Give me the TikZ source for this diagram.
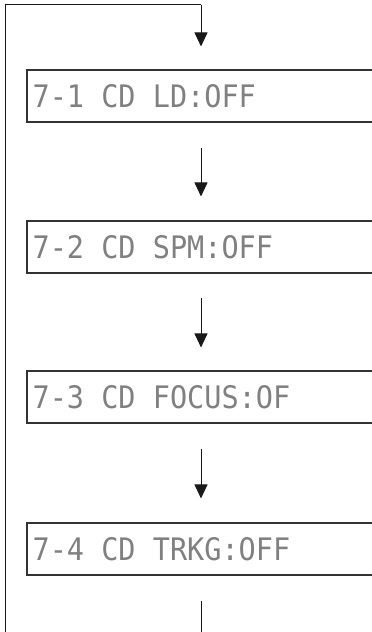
\documentclass[tikz,border=0pt]{standalone}
\usepackage{fontspec}
\newfontfamily\lcdfont[FakeStretch=0.92]{DejaVu Sans Mono}
\usetikzlibrary{arrows.meta,calc}
\begin{document}
\begin{tikzpicture}[x=1pt,y=1pt,
  lcdbox/.style={draw=black!80,line width=1.1pt,minimum width=373pt,minimum height=52pt,inner sep=0pt},
  lcdtext/.style={anchor=west,inner sep=0pt,text=black!50,font=\lcdfont\fontsize{31}{31}\selectfont},
  flow/.style={draw=black!90,line width=1pt},
  arr/.style={flow,-{Triangle[width=13pt,length=14pt]}}]
\useasboundingbox (0,0) rectangle (372,632);
\clip (0,0) rectangle (372,632);
\coordinate (ax) at (201,0);
\coordinate (lb) at (5,-5);
\coordinate (lt) at (5,627);
\coordinate (top) at (201,627);
\coordinate (bot) at (201,-5);
\node[lcdbox] (b1) at (213.5,536) {};
\node[lcdbox] (b2) at (213.5,385) {};
\node[lcdbox] (b3) at (213.5,235) {};
\node[lcdbox] (b4) at (213.5,83) {};
\node[lcdtext] (t1) at ([xshift=6pt]b1.west) {7-1 CD LD:OFF};
\node[lcdtext] (t2) at ([xshift=6pt]b2.west) {7-2 CD SPM:OFF};
\node[lcdtext] (t3) at ([xshift=6pt]b3.west) {7-3 CD FOCUS:OF};
\node[lcdtext] (t4) at ([xshift=6pt]b4.west) {7-4 CD TRKG:OFF};
\draw[flow] (lb) -- (lt) -- (top);
\draw[arr,shorten >=23pt] (top) -- (b1.north -| ax);
\draw[arr,shorten <=25pt,shorten >=24pt] (b1.south -| ax) -- (b2.north -| ax);
\draw[arr,shorten <=24pt,shorten >=23pt] (b2.south -| ax) -- (b3.north -| ax);
\draw[arr,shorten <=25pt,shorten >=24pt] (b3.south -| ax) -- (b4.north -| ax);
\draw[flow,shorten <=25pt] (b4.south -| ax) -- (bot);
\end{tikzpicture}
\end{document}
